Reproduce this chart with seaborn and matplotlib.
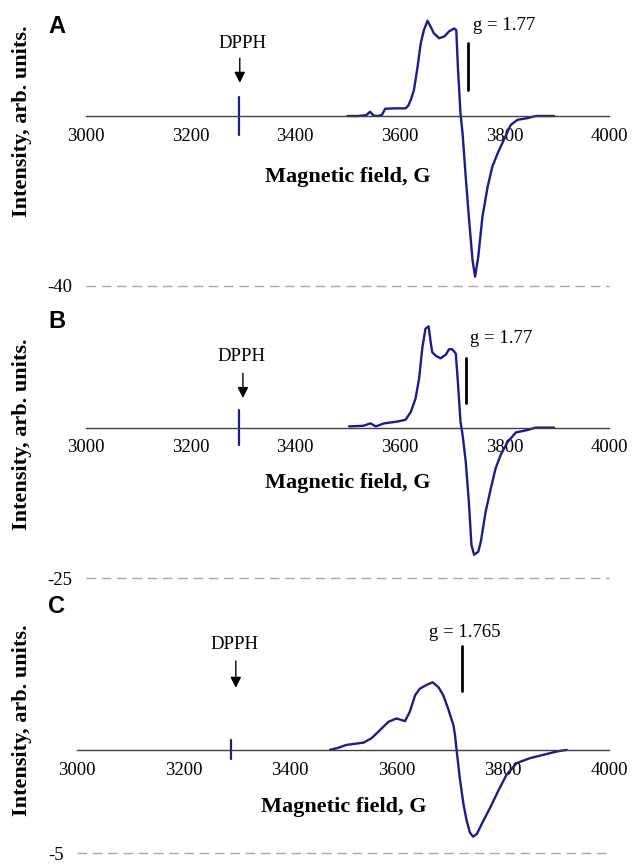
import matplotlib
matplotlib.use("Agg")
import matplotlib.pyplot as plt
import seaborn as sns

# ---- data (field in G, intensity in arb. units) ----
field_a = [3500, 3520, 3536, 3543, 3550, 3558, 3566, 3572, 3590, 3611,
           3616, 3621, 3627, 3634, 3640, 3646, 3653, 3659, 3665, 3675,
           3685, 3694, 3704, 3708, 3711, 3716, 3720, 3726, 3732, 3739,
           3744, 3750, 3758, 3768, 3777, 3787, 3799, 3812, 3825, 3844,
           3860, 3895]
intensity_a = [0, 0, 0.2, 1.0, 0.1, 0.0, 0.3, 1.7, 1.8, 1.8,
               2.4, 3.8, 6.1, 11.6, 17.1, 20.2, 22.4, 21.0, 19.5, 18.3,
               18.7, 19.9, 20.6, 20.2, 11.6, 0.6, -4.1, -14.3, -23.7, -33.9,
               -37.8, -33.1, -23.7, -16.6, -11.9, -8.8, -5.6, -2.1, -0.9, -0.5,
               0, 0]

field_b = [3503, 3530, 3544, 3554, 3570, 3595, 3611, 3621, 3630, 3637,
           3643, 3649, 3655, 3659, 3662, 3669, 3678, 3688, 3694, 3700,
           3707, 3711, 3716, 3720, 3726, 3732, 3737, 3742, 3750, 3755,
           3764, 3774, 3783, 3793, 3806, 3822, 3844, 3860, 3895]
intensity_b = [0.2, 0.3, 0.7, 0.2, 0.7, 1.0, 1.3, 2.6, 4.8, 8.2,
               13.2, 16.4, 16.8, 14.2, 12.5, 11.9, 11.5, 12.1, 13.0, 13.0,
               12.3, 7.6, 1.0, -1.2, -5.6, -12.3, -19.5, -21.1, -20.6, -18.9,
               -14.0, -10.1, -6.8, -4.5, -2.4, -0.8, -0.4, 0, 0]

field_c = [3475, 3488, 3506, 3538, 3553, 3566, 3585, 3600, 3610, 3616,
           3625, 3635, 3644, 3657, 3668, 3679, 3688, 3697, 3707, 3710,
           3713, 3719, 3726, 3732, 3738, 3744, 3751, 3760, 3776, 3791,
           3807, 3826, 3851, 3876, 3901, 3920]
intensity_c = [0, 0.08, 0.24, 0.35, 0.56, 0.88, 1.36, 1.52, 1.44, 1.39,
               1.84, 2.64, 2.96, 3.15, 3.27, 3.03, 2.64, 2.0, 1.2, 0.72,
               0, -1.36, -2.64, -3.43, -4.0, -4.2, -4.07, -3.6, -2.8, -2.0,
               -1.2, -0.64, -0.4, -0.24, -0.08, 0]

panel_letters = ["A", "B", "C"]
y_limits = [(-40, 25), (-25, 20), (-5, 7.5)]
g_labels = ["g = 1.77", "g = 1.77", "g = 1.765"]
g_fields = [3731, 3727, 3724]
g_marks = [(6.1, 17.1), (4.0, 11.5), (2.83, 5.03)]
g_text_pos = [(3799, 21.4), (3793, 14.8), (3729, 5.67)]
dpph_fields = [3292, 3292, 3289]
dpph_marks = [(-4.5, 4.5), (-2.9, 2.9), (-0.45, 0.5)]
dpph_arrows = [(3294, 13.6, 7.8), (3300, 9.0, 4.9), (3298, 4.3, 3.0)]
dpph_text_pos = [(3300, 17.1), (3298, 11.8), (3295, 5.1)]
x_ticks = [3000, 3200, 3400, 3600, 3800, 4000]

# axes boxes in figure fraction [left, bottom, width, height]
axes_boxes = [[0.1359, 0.669, 0.8262, 0.3197],
              [0.1359, 0.3307, 0.8262, 0.3139],
              [0.1221, 0.0125, 0.8404, 0.2990]]
xlabel_y = [0.396, 0.350, 0.180]
ylabel_y = [0.860, 0.498, 0.167]
letter_y = [0.969, 0.628, 0.298]

sns.set_style("white")
plt.rcParams["font.family"] = ["Liberation Serif", "DejaVu Serif"]
plt.rcParams["text.color"] = "black"
plt.rcParams["axes.labelcolor"] = "black"
plt.rcParams["xtick.labelcolor"] = "black"
plt.rcParams["ytick.labelcolor"] = "black"

curve_color = "#1c1c8c"
fig = plt.figure(figsize=(6.33, 8.64), dpi=100)

spectra = [(field_a, intensity_a), (field_b, intensity_b), (field_c, intensity_c)]

for i, (field, intensity) in enumerate(spectra):
    ax = fig.add_axes(axes_boxes[i])
    sns.lineplot(x=field, y=intensity, ax=ax, color=curve_color, linewidth=1.7)

    ax.set_xlim(3000, 4000)
    ax.set_ylim(*y_limits[i])

    # x axis drawn through zero, Excel-style
    for side in ["top", "right", "left"]:
        ax.spines[side].set_visible(False)
    ax.spines["bottom"].set_position(("data", 0))
    ax.spines["bottom"].set_color("#404040")
    ax.spines["bottom"].set_linewidth(1.0)
    ax.set_xticks(x_ticks)
    ax.tick_params(axis="x", direction="inout", length=5, width=1, color="#404040",
                   labelcolor="black", labelsize=13.5, pad=6)

    # only the minimum value is labelled, with a dashed gridline
    ymin = y_limits[i][0]
    ax.set_yticks([ymin])
    ax.set_yticklabels([f"{ymin:g}"])
    ax.tick_params(axis="y", length=0, labelcolor="black", labelsize=13.5, pad=10)
    ax.axhline(ymin, color="#a8a8a8", linewidth=1.0, dashes=(7, 4), clip_on=False)

    # DPPH reference
    ax.plot([dpph_fields[i]] * 2, dpph_marks[i], color=curve_color, linewidth=1.6)
    ax_x, y_from, y_to = dpph_arrows[i]
    ax.annotate("", xy=(ax_x, y_to), xytext=(ax_x, y_from),
                arrowprops=dict(arrowstyle="-|>", color="black", lw=1.0,
                                mutation_scale=16, shrinkA=0, shrinkB=0))
    ax.text(*dpph_text_pos[i], "DPPH", ha="center", va="center", fontsize=13.5)

    # g-value marker
    ax.plot([g_fields[i]] * 2, g_marks[i], color="black", linewidth=2)
    ax.text(*g_text_pos[i], g_labels[i], ha="center", va="center", fontsize=13.5)

    ax.set_xlabel("Magnetic field, G", fontsize=16, fontweight="bold")
    ax.xaxis.set_label_coords(0.5, xlabel_y[i])
    ax.xaxis.label.set_va("center")
    ax.set_ylabel("")

    fig.text(0.0343, ylabel_y[i], "Intensity, arb. units.", rotation=90,
             ha="center", va="center", fontsize=16, fontweight="bold")
    fig.text(0.09, letter_y[i], panel_letters[i], ha="center", va="center",
             fontsize=17, fontweight="bold", family="Liberation Sans")

fig.savefig("out.png", dpi=100)
